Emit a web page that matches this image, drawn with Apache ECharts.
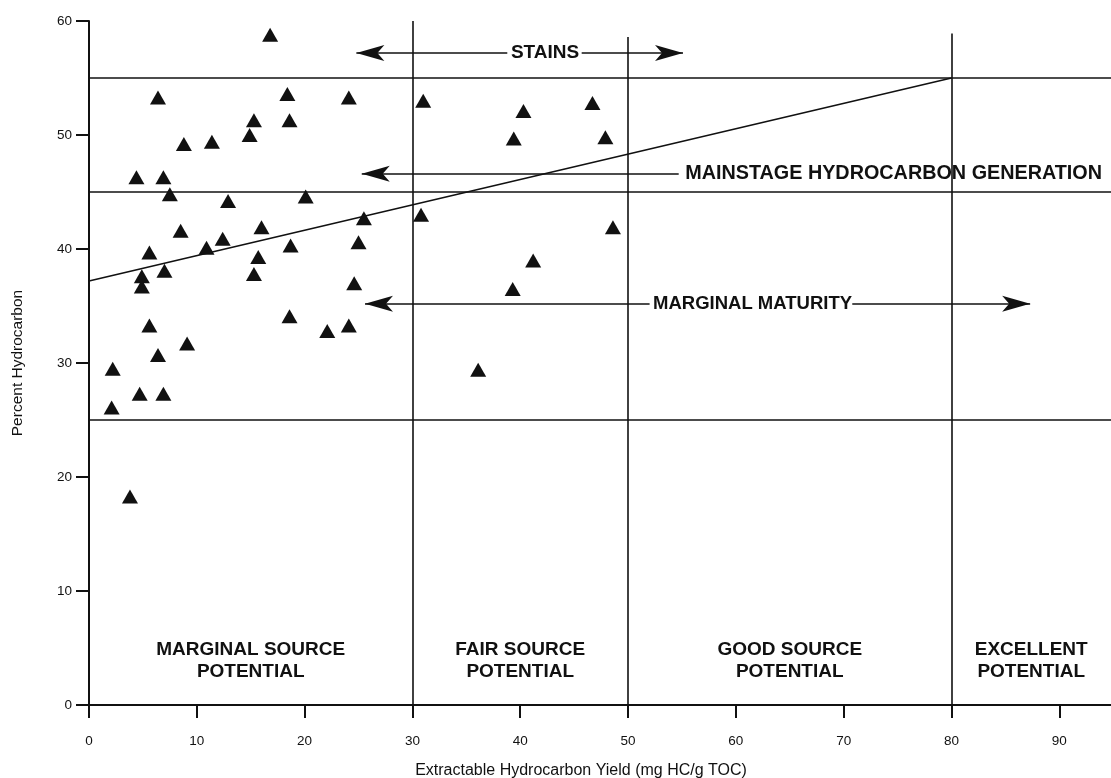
<!DOCTYPE html>
<html>
<head>
<meta charset="utf-8">
<script src="https://cdn.jsdelivr.net/npm/echarts@6/dist/echarts.min.js"></script>
<style>
html,body{margin:0;padding:0;background:#fff;}
#chart{width:1111px;height:778px;}
</style>
</head>
<body>
<div id="chart"></div>
<script>
// Extractable hydrocarbon yield (mg HC/g TOC)
const yieldValues = [16.8, 6.4, 18.4, 24.1, 15.3, 18.6, 8.8, 11.4, 14.9, 4.4,
  6.9, 7.5, 12.9, 20.1, 8.5, 16.0, 12.4, 10.9, 18.7, 5.6,
  15.7, 4.9, 7.0, 4.9, 15.3, 5.6, 18.6, 22.1, 24.1, 9.1,
  6.4, 2.2, 4.7, 6.9, 2.1, 3.8, 31.0, 40.3, 46.7, 39.4,
  47.9, 25.5, 30.8, 25.0, 48.6, 24.6, 41.2, 39.3, 36.1];
// Percent hydrocarbon
const percentHC = [58.8, 53.3, 53.6, 53.3, 51.3, 51.3, 49.2, 49.4, 50.0, 46.3,
  46.3, 44.8, 44.2, 44.6, 41.6, 41.9, 40.9, 40.1, 40.3, 39.7,
  39.3, 37.6, 38.1, 36.7, 37.8, 33.3, 34.1, 32.8, 33.3, 31.7,
  30.7, 29.5, 27.3, 27.3, 26.1, 18.3, 53.0, 52.1, 52.8, 49.7,
  49.8, 42.7, 43.0, 40.6, 41.9, 37.0, 39.0, 36.5, 29.4];
// Boundaries
const sourceBoundaries = [30, 50, 80];           // x
const sourceBoundaryTops = [60, 58.6, 58.9];     // y top of each vertical line
const zoneBoundaries = [25, 45, 55];             // y
const trendLine = [[0, 37.2], [80, 55]];
const xTickValues = [0, 10, 20, 30, 40, 50, 60, 70, 80, 90];
const yTickValues = [0, 10, 20, 30, 40, 50, 60];
const potentialLabels = ['MARGINAL SOURCE\nPOTENTIAL', 'FAIR SOURCE\nPOTENTIAL', 'GOOD SOURCE\nPOTENTIAL', 'EXCELLENT\nPOTENTIAL'];

const XMAX = 94.8;
const points = yieldValues.map((x, i) => [x, percentHC[i]]);
const ink = '#111111';
const FONT = 'Liberation Sans, Arial, sans-serif';
const annFont = {fontFamily: FONT, fontWeight: 'bold', fontSize: 19, color: ink, opacity: 1};

const lineStyle = {color: ink, width: 1.6, type: 'solid', opacity: 1};
const markLines = [];
sourceBoundaries.forEach((x, i) => markLines.push([{coord: [x, 0]}, {coord: [x, sourceBoundaryTops[i]]}]));
zoneBoundaries.forEach(y => markLines.push([{coord: [0, y]}, {coord: [XMAX, y]}]));
markLines.push([{coord: trendLine[0]}, {coord: trendLine[1]}]);

const arrowSize = [12, 28];
function arrowSeg(x1, x2, y, startArrow, endArrow) {
  return [{coord: [x1, y], symbol: startArrow ? 'arrow' : 'none', symbolSize: arrowSize},
          {coord: [x2, y], symbol: endArrow ? 'arrow' : 'none', symbolSize: arrowSize}];
}

const chart = echarts.init(document.getElementById('chart'), null, {renderer: 'canvas'});
chart.setOption({
  animation: false,
  backgroundColor: '#fff',
  grid: {left: 89, right: 0, top: 21, bottom: 73, containLabel: false, outerBoundsMode: 'none'},
  xAxis: {
    type: 'value', min: 0, max: XMAX, interval: 10,
    name: 'Extractable Hydrocarbon Yield (mg HC/g TOC)',
    nameLocation: 'middle', nameGap: 58,
    nameTextStyle: {fontFamily: FONT, fontSize: 16, color: ink, padding: [0, 38, 0, 0]},
    axisLine: {lineStyle: {color: ink, width: 2}},
    axisTick: {show: true, length: 13, lineStyle: {color: ink, width: 2}, customValues: xTickValues},
    axisLabel: {margin: 29, fontFamily: FONT, fontSize: 13.5, color: ink, customValues: xTickValues},
    splitLine: {show: false}
  },
  yAxis: {
    type: 'value', min: 0, max: 60, interval: 10,
    name: 'Percent Hydrocarbon',
    nameLocation: 'middle', nameGap: 63, nameRotate: 90,
    nameTextStyle: {fontFamily: FONT, fontSize: 15.5, color: ink},
    axisLine: {lineStyle: {color: ink, width: 2}},
    axisTick: {show: true, length: 13, lineStyle: {color: ink, width: 2}, customValues: yTickValues},
    axisLabel: {margin: 17, fontFamily: FONT, fontSize: 13.5, color: ink, customValues: yTickValues},
    splitLine: {show: false}
  },
  series: [
    {
      type: 'scatter', silent: true, z: 5,
      symbol: 'triangle', symbolSize: [16, 14],
      itemStyle: {color: ink, opacity: 1},
      data: points,
      markLine: {
        silent: true, symbol: ['none', 'none'], label: {show: false},
        lineStyle: lineStyle, z: 3,
        data: markLines.concat([
          arrowSeg(24.8, 38.8, 57.2, true, false),
          arrowSeg(45.7, 55.1, 57.2, false, true),
          arrowSeg(25.3, 54.7, 46.6, true, false),
          arrowSeg(25.6, 52.0, 35.2, true, false),
          arrowSeg(70.8, 87.3, 35.2, false, true)
        ])
      }
    },
    {
      type: 'scatter', silent: true, symbolSize: 0, z: 6,
      itemStyle: {opacity: 1},
      label: {show: true, position: 'inside', formatter: p => p.name, ...annFont, lineHeight: 22, align: 'center', verticalAlign: 'middle'},
      data: [
        {name: 'STAINS', value: [42.3, 57.2]},
        {name: 'MARGINAL MATURITY', value: [61.55, 35.2], label: {fontSize: 18.5}},
        {name: potentialLabels[0], value: [15, 3.9]},
        {name: potentialLabels[1], value: [40, 3.9]},
        {name: potentialLabels[2], value: [65, 3.9]},
        {name: potentialLabels[3], value: [87.4, 3.9]}
      ]
    },
    {
      type: 'scatter', silent: true, symbolSize: 0, z: 6,
      itemStyle: {opacity: 1},
      label: {show: true, position: 'right', distance: 0, formatter: p => p.name, ...annFont, fontSize: 19.8, verticalAlign: 'middle'},
      data: [{name: 'MAINSTAGE HYDROCARBON GENERATION', value: [55.3, 46.6]}]
    }
  ]
});
</script>
</body>
</html>
